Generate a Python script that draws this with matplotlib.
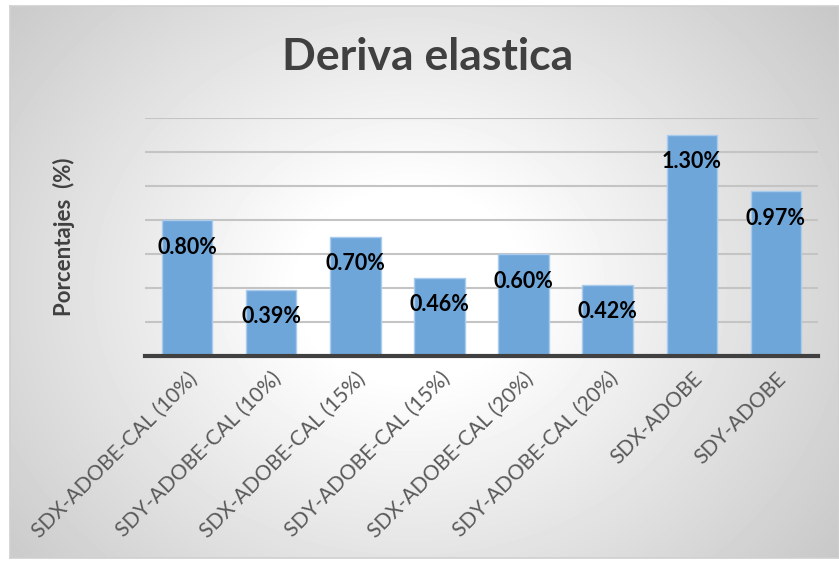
import numpy as np
import matplotlib
matplotlib.use("Agg")
import matplotlib.pyplot as plt

categories = [
    "SDX-ADOBE-CAL (10%)",
    "SDY-ADOBE-CAL (10%)",
    "SDX-ADOBE-CAL (15%)",
    "SDY-ADOBE-CAL (15%)",
    "SDX-ADOBE-CAL (20%)",
    "SDY-ADOBE-CAL (20%)",
    "SDX-ADOBE",
    "SDY-ADOBE",
]
deriva = [0.80, 0.39, 0.70, 0.46, 0.60, 0.42, 1.30, 0.97]  # percent

W, H = 839, 561
fig = plt.figure(figsize=(W / 100, H / 100), dpi=100)
fig.patch.set_facecolor("white")

# Radial grey gradient behind the chart
bg = fig.add_axes([10 / W, 1 - 558 / H, 1 - 10 / W, (558 - 6) / H], zorder=0)
yy, xx = np.mgrid[0:552, 0:829]
dist = np.hypot((xx - 400) / 1.0, (yy - 280) / 0.85)
shade = np.clip((dist - 110) / 430, 0, 1)
grey = 1.0 - 0.22 * shade
bg.imshow(grey, cmap="gray", vmin=0, vmax=1, aspect="auto", interpolation="bilinear")
bg.set_xticks([])
bg.set_yticks([])
for s in bg.spines.values():
    s.set_color("#d0d0d0")
    s.set_linewidth(1.2)

ax = fig.add_axes([145 / W, 1 - 356 / H, 673 / W, (356 - 118) / H], zorder=1)
ax.patch.set_alpha(0)

x = np.arange(len(categories))
ax.bar(x, deriva, width=0.6, color="#6fa6da", edgecolor="#a9cbec", linewidth=1, zorder=2)

ax.set_xlim(-0.5, len(categories) - 0.5)
ax.set_ylim(0, 1.4)
ax.set_yticks(np.arange(0, 1.41, 0.2))
ax.yaxis.grid(True, color="#c4c4c4", linewidth=1.5)
ax.set_axisbelow(True)
ax.tick_params(axis="y", length=0, labelleft=False)
ax.tick_params(axis="x", length=0, pad=9)

for s in ["top", "right", "left"]:
    ax.spines[s].set_visible(False)
ax.spines["bottom"].set_color("#404040")
ax.spines["bottom"].set_linewidth(3)
ax.spines["bottom"].set_zorder(3)

ax.set_xticks(x)
ax.set_xticklabels(categories, rotation=45, ha="right", rotation_mode="anchor",
                   fontsize=15, color="#595959", family="Lato")

for xi, v in zip(x, deriva):
    ax.annotate("{:.2f}%".format(v), (xi, v), xytext=(0, -27), textcoords="offset pixels",
                ha="center", va="center", fontsize=15.5, fontweight="bold",
                color="black", family="Lato", zorder=4)

ax.set_ylabel("Porcentajes  (%)", fontsize=16, fontweight="bold", color="#404040",
              family="Lato", labelpad=0)
ax.yaxis.set_label_coords(-70 / 673, 0.5)

fig.text(428 / W, 1 - 57 / H, "Deriva elastica", ha="center", va="center",
         fontsize=32, fontweight="bold", color="#404040", family="Lato")

fig.savefig("out.png", dpi=100)
